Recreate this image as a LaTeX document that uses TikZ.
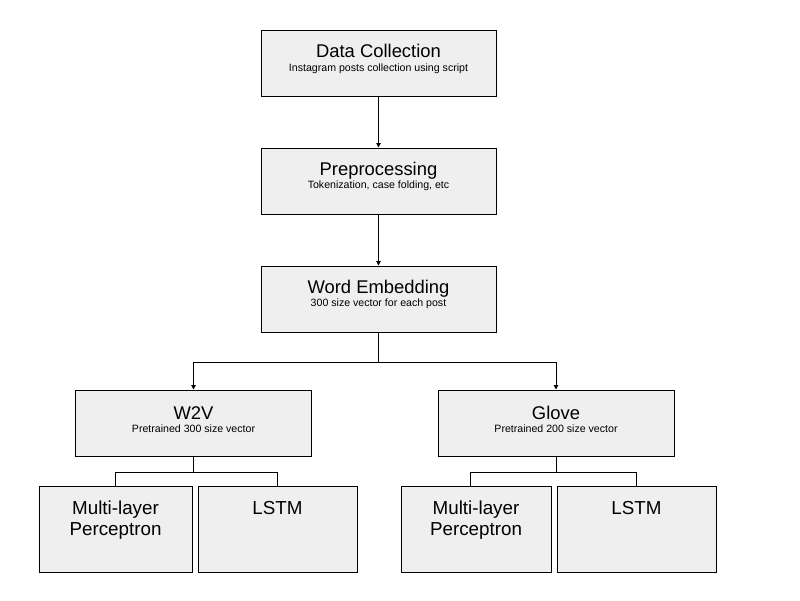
\documentclass[tikz,border=0pt]{standalone}
\usepackage{fontspec}
\setmainfont{Liberation Sans}
\usetikzlibrary{arrows.meta}
\definecolor{boxfill}{HTML}{EFEFEF}
\tikzset{
  box/.style={draw=black, line width=1pt, fill=boxfill, rectangle, inner sep=0pt},
  ttl/.style={anchor=base, inner sep=0pt, font=\fontsize{18.4}{21}\selectfont},
  sub/.style={anchor=base, inner sep=0pt, font=\fontsize{10.6}{12}\selectfont},
  big/.style={anchor=base, inner sep=0pt, font=\fontsize{18.8}{21}\selectfont},
  conn/.style={draw=black, line width=1pt},
  arr/.style={conn, -{Triangle[length=4.5pt,width=4.5pt]}}
}
\begin{document}
\begin{tikzpicture}[x=1pt,y=-1pt]
\useasboundingbox (0,0) rectangle (800,600);
% main boxes
\node[box, minimum width=235pt, minimum height=66pt] (dc) at (378.5,63) {};
\node[box, minimum width=235pt, minimum height=66pt] (pp) at (378.5,181) {};
\node[box, minimum width=235pt, minimum height=66pt] (we) at (378.5,299) {};
\node[box, minimum width=236pt, minimum height=66pt] (w2v) at (193.5,423) {};
\node[box, minimum width=236pt, minimum height=66pt] (gl) at (556,423) {};
\node[box, minimum width=153pt, minimum height=86pt] (mlp1) at (115.5,529) {};
\node[box, minimum width=159pt, minimum height=86pt] (lstm1) at (277.5,529) {};
\node[box, minimum width=150pt, minimum height=86pt] (mlp2) at (476,529) {};
\node[box, minimum width=159pt, minimum height=86pt] (lstm2) at (636.5,529) {};
% texts
\node[ttl] (dct) at (378.5,57) {Data Collection};
\node[sub] (dcs) at (378.5,71) {Instagram posts collection using script};
\node[ttl] (ppt) at (378.5,175) {Preprocessing};
\node[sub] (pps) at (378.5,188.5) {Tokenization, case folding, etc};
\node[ttl] (wet) at (378.5,293) {Word Embedding};
\node[sub] (wes) at (378.5,306.5) {300 size vector for each post};
\node[ttl] (w2vt) at (193.5,419) {W2V};
\node[sub] (w2vs) at (193.5,432.5) {Pretrained 300 size vector};
\node[ttl] (glt) at (556,419) {Glove};
\node[sub] (gls) at (556,432.5) {Pretrained 200 size vector};
\node[big] (mlp1a) at (115.5,514) {Multi-layer};
\node[big] (mlp1b) at (115.5,535) {Perceptron};
\node[big] (lstm1t) at (277.5,514) {LSTM};
\node[big] (mlp2a) at (476,514) {Multi-layer};
\node[big] (mlp2b) at (476,535) {Perceptron};
\node[big] (lstm2t) at (636.5,514) {LSTM};
% connectors
\coordinate (s1) at (378.5,362);
\coordinate (s1l) at (193.5,362);
\coordinate (s1r) at (556,362);
\draw[arr] (dc.south) -- (pp.north);
\draw[arr] (pp.south) -- (we.north);
\draw[conn] (we.south) -- (s1);
\draw[arr] (s1) -- (s1l) -- (w2v.north);
\draw[arr] (s1) -- (s1r) -- (gl.north);
\coordinate (b1) at (193.5,472);
\coordinate (b1l) at (115.5,472);
\coordinate (b1r) at (277.5,472);
\draw[conn] (w2v.south) -- (b1);
\draw[conn] (b1l) -- (b1r);
\draw[conn] (b1l) -- (mlp1.north);
\draw[conn] (b1r) -- (lstm1.north);
\coordinate (b2) at (556,472);
\coordinate (b2l) at (470,472);
\coordinate (b2r) at (636.5,472);
\draw[conn] (gl.south) -- (b2);
\draw[conn] (b2l) -- (b2r);
\draw[conn] (b2l) -- (b2l |- mlp2.north);
\draw[conn] (b2r) -- (lstm2.north);
\end{tikzpicture}
\end{document}
